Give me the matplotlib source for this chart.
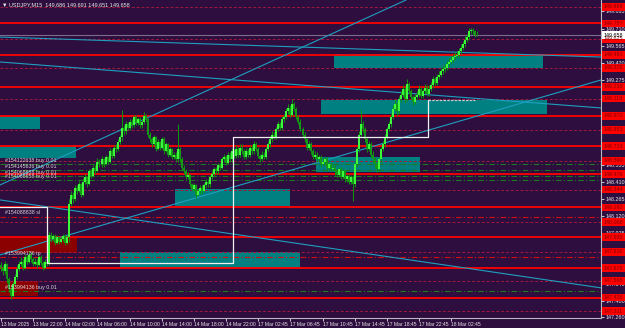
import matplotlib
matplotlib.use("Agg")
import matplotlib.pyplot as plt
import matplotlib.transforms as mtransforms
from matplotlib.patches import Rectangle
import numpy as np

plt.rcParams['font.family'] = ['Liberation Sans', 'DejaVu Sans']

# ---- candle data (USDJPY M15), one value per bar ----
closes = [
    147.68, 147.65, 147.71, 147.58, 147.50, 147.44, 147.54, 147.60,
    147.67, 147.71, 147.73, 147.68, 147.77, 147.73, 147.79, 147.75, 147.71,
    147.73, 147.70, 147.77, 147.72, 147.68, 147.73, 147.71,
    147.96,
    147.92, 147.95, 147.89, 147.94, 147.90, 147.92, 147.95, 147.89, 147.94,
    148.22,
    148.30, 148.26, 148.36, 148.33, 148.39, 148.30, 148.41,
    148.45, 148.39, 148.50, 148.46, 148.53, 148.50, 148.58, 148.56,
    148.60, 148.56, 148.62, 148.58, 148.67, 148.63, 148.70,
    148.69, 148.75, 148.79, 148.87, 148.84, 148.90,
    148.87, 148.92, 148.89, 148.96, 148.91, 148.94, 148.89, 148.92, 148.97, 148.94,
    148.81, 148.77, 148.73, 148.79, 148.69, 148.75,
    148.70, 148.77, 148.67, 148.73, 148.64, 148.69, 148.62,
    148.64, 148.60, 148.69,
    148.60, 148.53, 148.50, 148.45, 148.47, 148.39,
    148.35, 148.38, 148.30, 148.33, 148.36,
    148.33, 148.38, 148.41, 148.39, 148.45,
    148.48, 148.52, 148.50, 148.55, 148.53, 148.60,
    148.62, 148.57, 148.64, 148.60, 148.67, 148.63,
    148.69, 148.64, 148.70, 148.67, 148.62, 148.67,
    148.64, 148.70, 148.67, 148.73, 148.69, 148.63, 148.60, 148.64, 148.62,
    148.69, 148.73, 148.77, 148.81, 148.79, 148.86, 148.90, 148.87, 148.94, 148.96,
    149.01, 149.04, 148.98, 149.07, 149.03, 148.96, 148.92,
    148.86, 148.81, 148.77, 148.70, 148.73, 148.67, 148.62, 148.64,
    148.60, 148.62, 148.56, 148.58, 148.60, 148.53, 148.56, 148.52, 148.53, 148.50,
    148.47, 148.52, 148.45, 148.50, 148.43, 148.46, 148.41, 148.45, 148.39,
    148.56, 148.69, 148.81, 148.90, 148.86,
    148.77, 148.69, 148.73, 148.64, 148.60, 148.56, 148.52,
    148.60, 148.69, 148.73, 148.79, 148.86, 148.90,
    148.96, 149.03, 149.07, 149.01, 149.11,
    149.15, 149.20, 149.11, 149.24, 149.18, 149.13, 149.09,
    149.13, 149.15, 149.20, 149.14, 149.18, 149.21, 149.16, 149.20,
    149.23, 149.28, 149.25, 149.30, 149.32, 149.35, 149.37,
    149.38, 149.41, 149.43, 149.45, 149.47, 149.48, 149.49,
    149.52, 149.55, 149.58, 149.62, 149.64, 149.69,
    149.70, 149.69, 149.66, 149.658,
]
highs = [
    147.73, 147.70, 147.74, 147.72, 147.60, 147.52, 147.56, 147.63,
    147.70, 147.74, 147.77, 147.75, 147.80, 147.79, 147.82, 147.81, 147.77,
    147.76, 147.75, 147.79, 147.79, 147.74, 147.75, 147.75,
    147.98,
    147.98, 147.97, 147.97, 147.96, 147.95, 147.94, 147.97, 147.97, 147.96,
    148.26,
    148.33, 148.32, 148.38, 148.38, 148.42, 148.40, 148.44,
    148.48, 148.46, 148.52, 148.52, 148.55, 148.55, 148.61, 148.60,
    148.63, 148.61, 148.64, 148.63, 148.70, 148.69, 148.72,
    148.73, 148.77, 148.81, 149.02, 148.89, 148.93,
    148.92, 148.94, 148.94, 148.98, 148.98, 148.96, 148.96, 148.94, 149.00, 148.99,
    148.95, 148.83, 148.79, 148.81, 148.80, 148.77,
    148.76, 148.79, 148.79, 148.75, 148.74, 148.71, 148.70,
    148.66, 148.66, 148.90,
    148.71, 148.62, 148.55, 148.52, 148.49, 148.48,
    148.40, 148.40, 148.39, 148.35, 148.38,
    148.38, 148.40, 148.43, 148.43, 148.47,
    148.50, 148.54, 148.54, 148.57, 148.57, 148.62,
    148.65, 148.64, 148.66, 148.66, 148.70, 148.69,
    148.72, 148.71, 148.73, 148.73, 148.69, 148.70,
    148.69, 148.72, 148.72, 148.76, 148.75, 148.71, 148.65, 148.67, 148.66,
    148.71, 148.76, 148.80, 148.84, 148.83, 148.88, 148.93, 148.92, 148.97, 148.99,
    149.04, 149.07, 149.06, 149.11, 149.09, 149.05, 148.98,
    148.94, 148.88, 148.83, 148.78, 148.76, 148.75, 148.69, 148.67,
    148.66, 148.64, 148.64, 148.61, 148.62, 148.62, 148.58, 148.58, 148.56, 148.55,
    148.52, 148.54, 148.54, 148.52, 148.52, 148.48, 148.48, 148.47, 148.47,
    148.58, 148.71, 148.84, 149.02, 148.93,
    148.88, 148.79, 148.76, 148.75, 148.67, 148.62, 148.58,
    148.62, 148.71, 148.76, 148.82, 148.88, 148.93,
    148.99, 149.06, 149.11, 149.09, 149.14,
    149.18, 149.23, 149.22, 149.28, 149.26, 149.20, 149.15,
    149.16, 149.18, 149.23, 149.22, 149.20, 149.24, 149.23, 149.23,
    149.26, 149.31, 149.30, 149.33, 149.35, 149.38, 149.40,
    149.41, 149.44, 149.46, 149.48, 149.50, 149.51, 149.52,
    149.55, 149.58, 149.61, 149.65, 149.67, 149.72,
    149.72, 149.72, 149.70, 149.691,
]
lows = [
    147.65, 147.62, 147.63, 147.55, 147.47, 147.41, 147.43, 147.52,
    147.58, 147.65, 147.69, 147.66, 147.67, 147.71, 147.72, 147.73, 147.69,
    147.70, 147.68, 147.69, 147.70, 147.66, 147.67, 147.69,
    147.70,
    147.90, 147.91, 147.87, 147.88, 147.88, 147.89, 147.91, 147.87, 147.88,
    147.90,
    148.20, 148.23, 148.25, 148.31, 148.32, 148.28, 148.29,
    148.39, 148.37, 148.38, 148.44, 148.45, 148.48, 148.49, 148.54,
    148.54, 148.54, 148.55, 148.56, 148.57, 148.61, 148.61,
    148.66, 148.67, 148.73, 148.76, 148.81, 148.82,
    148.85, 148.85, 148.87, 148.88, 148.89, 148.89, 148.87, 148.87, 148.90, 148.92,
    148.79, 148.75, 148.71, 148.72, 148.67, 148.68,
    148.68, 148.69, 148.65, 148.66, 148.62, 148.63, 148.60,
    148.60, 148.58, 148.58,
    148.58, 148.51, 148.48, 148.43, 148.43, 148.37,
    148.33, 148.33, 148.27, 148.29, 148.31,
    148.31, 148.32, 148.36, 148.37, 148.37,
    148.43, 148.46, 148.48, 148.48, 148.51, 148.52,
    148.58, 148.55, 148.56, 148.58, 148.58, 148.61,
    148.61, 148.62, 148.62, 148.65, 148.60, 148.60,
    148.62, 148.62, 148.65, 148.65, 148.67, 148.61, 148.58, 148.59, 148.60,
    148.60, 148.67, 148.71, 148.75, 148.77, 148.77, 148.84, 148.85, 148.85, 148.92,
    148.94, 148.99, 148.96, 148.97, 149.01, 148.94, 148.90,
    148.84, 148.79, 148.75, 148.68, 148.68, 148.65, 148.60, 148.60,
    148.58, 148.58, 148.54, 148.55, 148.56, 148.51, 148.51, 148.50, 148.50, 148.47,
    148.45, 148.45, 148.43, 148.43, 148.41, 148.41, 148.39, 148.39, 148.25,
    148.37, 148.54, 148.66, 148.79, 148.83,
    148.75, 148.66, 148.67, 148.62, 148.57, 148.53, 148.49,
    148.50, 148.58, 148.67, 148.71, 148.77, 148.84,
    148.88, 148.94, 149.01, 148.97, 148.99,
    149.09, 149.13, 149.08, 149.10, 149.16, 149.11, 149.06,
    149.07, 149.11, 149.13, 149.12, 149.12, 149.16, 149.14, 149.14,
    149.18, 149.21, 149.23, 149.23, 149.28, 149.30, 149.33,
    149.34, 149.36, 149.39, 149.41, 149.43, 149.45, 149.46,
    149.47, 149.50, 149.53, 149.56, 149.60, 149.62,
    149.67, 149.66, 149.64, 149.651,
]
first_open = 147.70

# time axis: a label every 16 bars (4 hours)
time_labels = ["13 Mar 2025", "13 Mar 22:00", "14 Mar 02:00", "14 Mar 06:00",
               "14 Mar 10:00", "14 Mar 14:00", "14 Mar 18:00", "14 Mar 22:00",
               "17 Mar 02:45", "17 Mar 06:45", "17 Mar 10:45", "17 Mar 14:45",
               "17 Mar 18:45", "17 Mar 22:45", "18 Mar 02:45"]

# price scale (labels hidden behind the level boxes are left blank)
price_ticks = [149.865, 149.710, 149.565, 149.420, 149.275, 149.125, 148.980,
               148.835, 148.690, 148.555, 148.410, 148.265, 148.120, 147.975,
               147.830, 147.685, 147.540, 147.400, 147.260]
price_shown = [1, 1, 1, 1, 1, 0, 0, 0, 0, 1, 1, 1, 1, 1, 0, 0, 1, 1, 1]

# horizontal levels
solid_levels = [149.757, 149.491, 149.218, 148.970, 148.713, 148.476,
                148.192, 147.939, 147.675, 147.426]
dashed_levels = [149.898, 149.625, 149.378, 149.118, 148.853, 148.590,
                 148.344, 148.068, 147.816, 147.568, 147.311]
bid_price = 149.658

# open orders
order_prices = [148.561, 148.510, 148.459, 148.425, 147.482]
order_labels = ["#154122638 buy 0.01", "#154145636 buy 0.01",
                "#154068658 buy 0.01", "#154068658 buy 0.01",
                "#153994136 buy 0.01"]
stop_prices = [148.112, 147.771]
stop_labels = ["#154088838 sl", "#153994136 tp"]

# rectangles: (bar start, bar end, price low, price high)
teal_x0 = [165.5, 159.0, -1.0, -1.0, 156.5, 86.6, 59.2]
teal_x1 = [269.7, 271.7, 19.4, 37.3, 208.5, 143.8, 148.8]
teal_p0 = [149.378, 148.987, 148.860, 148.613, 148.490, 148.205, 147.678]
teal_p1 = [149.497, 149.106, 148.970, 148.715, 148.621, 148.350, 147.816]
red_x0 = [-1.0, -1.0]
red_x1 = [37.8, 18.4]
red_p0 = [147.806, 147.440]
red_p1 = [147.942, 147.568]

# trend lines (bar, price) -> (bar, price)
trend_x0 = [-0.5, -0.5, -0.5, -0.5, -0.5]
trend_p0 = [149.641, 149.429, 148.383, 147.788, 148.256]
trend_x1 = [298.5, 298.5, 201.5, 298.5, 298.5]
trend_p1 = [149.471, 149.038, 149.956, 149.276, 147.508]

# white step line
step_x = [-0.5, 23.0, 23.0, 115.5, 115.5, 212.5, 212.5]
step_p = [148.196, 148.196, 147.721, 147.721, 148.790, 148.790, 149.105]

bg = '#2d0e3e'
fig = plt.figure(figsize=(6.25, 3.28), dpi=100, facecolor=bg)
ax = fig.add_axes([0, 10.5 / 328, 601 / 625, 317.5 / 328])
ax.set_facecolor(bg)
ax.set_xlim(-0.5, 298.5)
ax.set_ylim(147.256, 149.956)

for a, b, c, d in zip(teal_x0, teal_x1, teal_p0, teal_p1):
    ax.add_patch(Rectangle((a, c), b - a, d - c, color='#008080', lw=0, zorder=1))
for a, b, c, d in zip(red_x0, red_x1, red_p0, red_p1):
    ax.add_patch(Rectangle((a, c), b - a, d - c, color='#8b0000', lw=0, zorder=1))

for p in solid_levels:
    ax.axhline(p, color='#ff0000', lw=1.3, zorder=2)
for p in dashed_levels:
    ax.axhline(p, color='#a0183c', lw=0.7, ls=(0, (3, 2)), zorder=2)
ax.axhline(bid_price, color='#7d6a8c', lw=0.8, zorder=2)

for p in order_prices:
    ax.axhline(p, color='#1e7a1e', lw=0.8, ls=(0, (5, 2, 1, 2)), zorder=2)
for p in stop_prices:
    ax.axhline(p, color='#d01010', lw=0.8, ls=(0, (5, 2, 1, 2)), zorder=2)

for a, b, c, d in zip(trend_x0, trend_p0, trend_x1, trend_p1):
    ax.plot([a, c], [b, d], color='#1f9fc0', lw=0.8, zorder=3)

# candles
opens = [first_open] + closes[:-1]
x = np.arange(len(closes))
ax.vlines(x, lows, highs, color='#0a9a0a', lw=0.7, zorder=4)
for i in range(len(closes)):
    up = closes[i] >= opens[i]
    lo, hi = min(opens[i], closes[i]), max(opens[i], closes[i])
    if hi - lo < 0.004:
        hi = lo + 0.004
    ax.vlines(i, lo, hi, color='#3cff3c' if up else '#169a16', lw=1.4, zorder=5)

ax.plot(step_x, step_p, color='#f0f0f0', lw=0.9, zorder=6)
ax.plot([212.5, 236.0], [149.105, 149.105], color='#c8c8d0', lw=0.9,
        ls=(0, (2, 1)), zorder=6)

# axes styling
for s in ['left', 'top']:
    ax.spines[s].set_visible(False)
for s in ['right', 'bottom']:
    ax.spines[s].set_color('#b8b8c0')
    ax.spines[s].set_linewidth(0.8)

ax.yaxis.tick_right()
ax.set_yticks(price_ticks)
ax.set_yticklabels([f"{p:.3f}" if s else "" for p, s in zip(price_ticks, price_shown)])
ax.set_xticks(np.arange(len(time_labels)) * 16)
ax.set_xticklabels(time_labels)
ax.tick_params(colors='#e8e8e8', labelsize=3.9, length=2, width=0.6, pad=1.5)
ax.tick_params(axis='x', labelsize=3.6)
for lab in ax.get_xticklabels():
    lab.set_ha('left')

# price boxes on the scale
ytrans = mtransforms.blended_transform_factory(ax.transAxes, ax.transData)
box_h = 0.066
for p in solid_levels + dashed_levels:
    ax.add_patch(Rectangle((1.002, p - box_h / 2), 0.04, box_h, transform=ytrans,
                           fc='#ff0000', ec='none', clip_on=False, zorder=9))
    ax.text(1.005, p, f"{p:.3f}", transform=ytrans, fontsize=3.9, color='#7a0000',
            va='center', ha='left', clip_on=False, zorder=10)
ax.add_patch(Rectangle((1.002, bid_price - box_h / 2), 0.04, box_h, transform=ytrans,
                       fc='#ffffff', ec='none', clip_on=False, zorder=9))
ax.text(1.005, bid_price, f"{bid_price:.3f}", transform=ytrans, fontsize=3.9,
        color='#000000', va='center', ha='left', clip_on=False, zorder=10)

for p, t in zip(order_prices, order_labels):
    ax.text(2, p + 0.012, t, fontsize=3.8, color='#d8d8d8', va='bottom', ha='left',
            zorder=8)
for p, t in zip(stop_prices, stop_labels):
    ax.text(2, p + 0.012, t, fontsize=3.8, color='#d8d8d8', va='bottom', ha='left',
            zorder=8)

ax.text(0.004, 0.993, "\u25bc USDJPY,M15  149.686 149.691 149.651 149.658",
        transform=ax.transAxes, fontsize=4, color='#e8e8e8', va='top', ha='left',
        zorder=10)

fig.savefig("out.png", dpi=100, facecolor=bg)
